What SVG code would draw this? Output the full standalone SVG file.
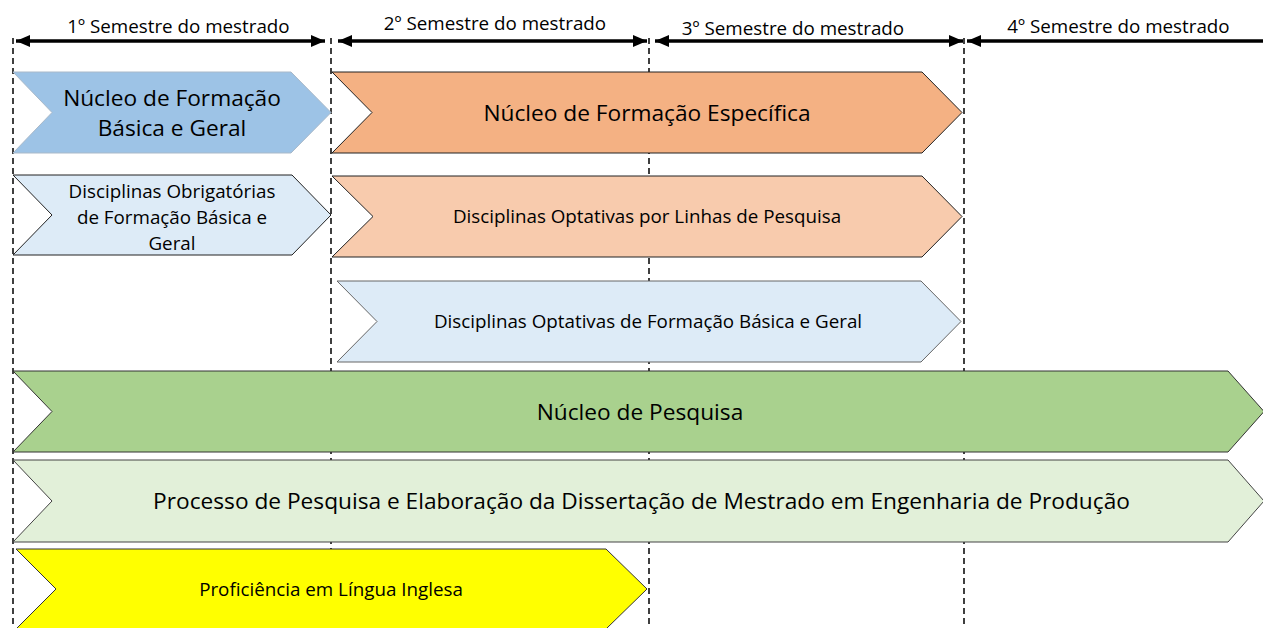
<svg xmlns="http://www.w3.org/2000/svg" width="1263" height="628" viewBox="0 0 1263 628">
<defs>
<marker id="ah" markerUnits="userSpaceOnUse" markerWidth="14" markerHeight="12" refX="14" refY="6" orient="auto-start-reverse">
<path d="M0,0 L14,6 L0,12 Z" fill="#000"/>
</marker>
</defs>
<style>
.guide{stroke:#000;stroke-width:1.5;stroke-dasharray:6,4;fill:none}
.span{stroke:#000;stroke-width:3.5;fill:none}
.lbl{font-family:"Open Sans","Liberation Sans",sans-serif;fill:#000;text-anchor:middle}
.sm{font-size:18.8px}
.bg{font-size:22.7px}
.chev{stroke-width:1;stroke-linejoin:miter}
</style>
<rect width="1263" height="628" fill="#fff"/>
<g id="guides">
<line class="guide" x1="13" y1="38" x2="13" y2="628"/>
<line class="guide" x1="331" y1="38" x2="331" y2="628"/>
<line class="guide" x1="649" y1="38" x2="649" y2="628"/>
<line class="guide" x1="964" y1="38" x2="964" y2="628"/>
</g>
<g id="connectors">
<line class="span" x1="16" y1="41" x2="325" y2="41" marker-start="url(#ah)" marker-end="url(#ah)"/>
<line class="span" x1="338" y1="41" x2="647" y2="41" marker-start="url(#ah)" marker-end="url(#ah)"/>
<line class="span" x1="655" y1="41" x2="963" y2="41" marker-start="url(#ah)" marker-end="url(#ah)"/>
<line class="span" x1="967" y1="41" x2="1263" y2="41" marker-start="url(#ah)"/>
</g>
<g id="semester-labels">
<text class="lbl sm" x="178.5" y="33">1º Semestre do mestrado</text>
<text class="lbl sm" x="495" y="30">2º Semestre do mestrado</text>
<text class="lbl sm" x="793" y="35">3º Semestre do mestrado</text>
<text class="lbl sm" x="1118.5" y="33">4º Semestre do mestrado</text>
</g>
<g id="nucleo-basica">
<path class="chev" d="M13,72 H291 L331,112.5 L291,153 H13 L52,112.5 Z" fill="#9DC3E6" stroke="#A9B9C9"/>
<text class="lbl bg" x="172" y="106">Núcleo de Formação</text>
<text class="lbl bg" x="172" y="136">Básica e Geral</text>
</g>
<g id="obrigatorias">
<path class="chev" d="M13,175 H292 L331,215 L292,255 H13 L52,215 Z" fill="#DDEBF7" stroke="#222"/>
<text class="lbl sm" x="172" y="198">Disciplinas Obrigatórias</text>
<text class="lbl sm" x="172" y="224">de Formação Básica e</text>
<text class="lbl sm" x="172" y="250">Geral</text>
</g>
<g id="nucleo-especifica">
<path class="chev" d="M332,72 H922 L962,112.5 L922,153 H332 L372,112.5 Z" fill="#F4B183" stroke="#222"/>
<text class="lbl bg" x="647" y="121">Núcleo de Formação Específica</text>
</g>
<g id="optativas-linhas">
<path class="chev" d="M332,176 H922 L962,216.5 L922,257 H332 L373,216.5 Z" fill="#F8CBAD" stroke="#222"/>
<text class="lbl sm" x="647" y="223">Disciplinas Optativas por Linhas de Pesquisa</text>
</g>
<g id="optativas-basica">
<path class="chev" d="M337,281 H921 L961,321.5 L921,362 H337 L377,321.5 Z" fill="#DDEBF7" stroke="#666"/>
<text class="lbl sm" x="648" y="328">Disciplinas Optativas de Formação Básica e Geral</text>
</g>
<g id="nucleo-pesquisa">
<path class="chev" d="M13,371 H1228 L1264,411.5 L1228,452 H13 L52,411.5 Z" fill="#A9D18E" stroke="#333"/>
<text class="lbl bg" x="640" y="420">Núcleo de Pesquisa</text>
</g>
<g id="processo">
<path class="chev" d="M13,460 H1228 L1264,501 L1228,542 H13 L52,501 Z" fill="#E2F0D9" stroke="#444"/>
<text class="lbl bg" x="641.5" y="509">Processo de Pesquisa e Elaboração da Dissertação de Mestrado em Engenharia de Produção</text>
</g>
<g id="proficiencia">
<path class="chev" d="M16,549 H606 L647,589 L606,629 H16 L56,589 Z" fill="#FFFF00" stroke="#333"/>
<text class="lbl sm" x="331" y="596">Proficiência em Língua Inglesa</text>
</g>
</svg>
